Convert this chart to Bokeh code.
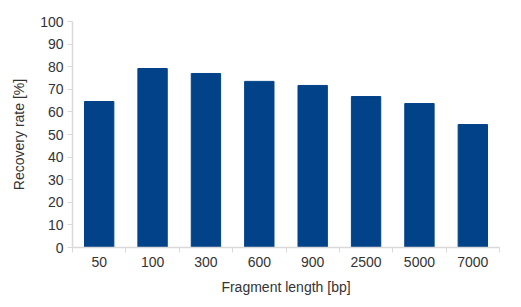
from bokeh.plotting import figure
from bokeh.models import Range1d, FixedTicker, ColumnDataSource
from bokeh.embed import file_html
from bokeh.resources import INLINE

categories = ["50", "100", "300", "600", "900", "2500", "5000", "7000"]
recovery = [64.6, 79.2, 77.0, 73.5, 71.7, 66.8, 63.7, 54.4]
y_ticks = list(range(0, 101, 10))

n = len(categories)
xpos = [i + 0.5 for i in range(n)]
src = ColumnDataSource(dict(x=xpos, top=recovery, cat=categories))

p = figure(width=521, height=307, output_backend="svg", toolbar_location=None,
           x_range=Range1d(0, n), y_range=Range1d(0, 100),
           min_border_left=72, min_border_right=22, min_border_top=21, min_border_bottom=60)
p.outline_line_color = None
p.xgrid.visible = False
p.ygrid.visible = False
p.background_fill_color = "white"
p.border_fill_color = "white"

p.vbar(x="x", top="top", width=0.55, bottom=0, source=src, color="#024289")

FONT = "Liberation Sans"
axis_col = "#d9d9d9"
text_col = "#333333"

xa = p.xaxis[0]
xa.ticker = FixedTicker(ticks=xpos, minor_ticks=list(range(0, n + 1)))
xa.major_label_overrides = {x: c for x, c in zip(xpos, categories)}
xa.major_tick_line_color = None
xa.minor_tick_line_color = axis_col
xa.minor_tick_out = 5
xa.minor_tick_in = 0
xa.axis_line_color = axis_col
xa.axis_line_width = 1.5
xa.major_label_standoff = 3
xa.axis_label = "Fragment length [bp]"
xa.axis_label_standoff = 9

ya = p.yaxis[0]
ya.ticker = FixedTicker(ticks=y_ticks)
ya.minor_tick_line_color = None
ya.major_tick_line_color = axis_col
ya.major_tick_out = 5
ya.major_tick_in = 0
ya.axis_line_color = axis_col
ya.axis_line_width = 1.5
ya.major_label_standoff = 4
ya.axis_label = "Recovery rate [%]"
ya.axis_label_standoff = 10

for a in (xa, ya):
    a.major_label_text_font = FONT
    a.major_label_text_font_size = "14px"
    a.major_label_text_color = text_col
    a.axis_label_text_font = FONT
    a.axis_label_text_font_size = "14px"
    a.axis_label_text_font_style = "normal"
    a.axis_label_text_color = text_col

open("out.html", "w").write(file_html(p, INLINE))
